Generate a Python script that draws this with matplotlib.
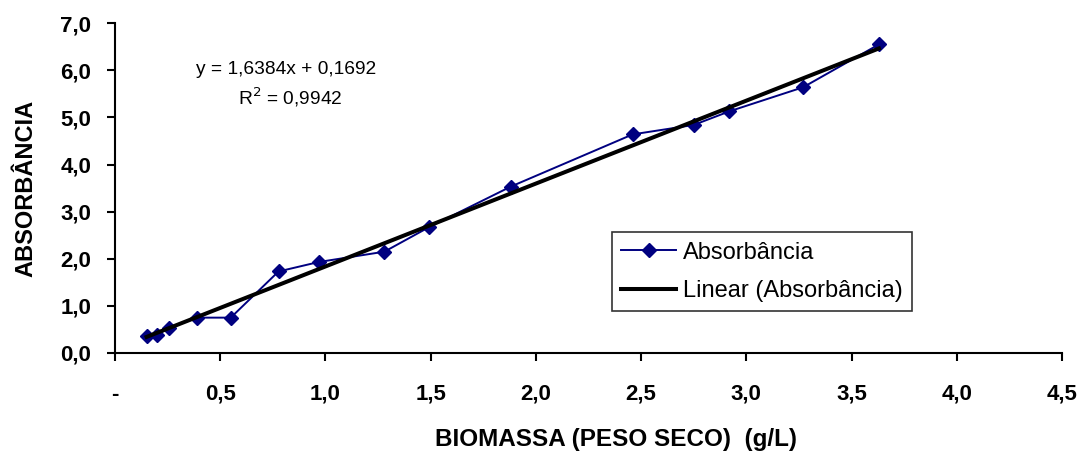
import numpy as np
import matplotlib
matplotlib.use("Agg")
import matplotlib.pyplot as plt

plt.rcParams['font.family'] = ['Liberation Sans', 'DejaVu Sans']

# Data
biomassa = [0.15, 0.198, 0.256, 0.39, 0.55, 0.777, 0.967, 1.28, 1.492,
            1.88, 2.46, 2.75, 2.92, 3.27, 3.63]
absorbancia = [0.35, 0.38, 0.53, 0.75, 0.75, 1.73, 1.93, 2.15, 2.67,
               3.53, 4.64, 4.84, 5.13, 5.64, 6.55]

x_ticks = [0, 0.5, 1.0, 1.5, 2.0, 2.5, 3.0, 3.5, 4.0, 4.5]
x_tick_labels = ['-', '0,5', '1,0', '1,5', '2,0', '2,5', '3,0', '3,5', '4,0', '4,5']
y_ticks = [0, 1, 2, 3, 4, 5, 6, 7]
y_tick_labels = ['0,0', '1,0', '2,0', '3,0', '4,0', '5,0', '6,0', '7,0']

fig = plt.figure(figsize=(10.81, 4.53), dpi=100)
ax = fig.add_axes([0.1064, 0.2208, 0.876, 0.728])

ax.plot(biomassa, absorbancia, color='#000080', lw=1.4, marker='D',
        markersize=7, label='Absorbância', zorder=3)

# linear trendline
coef = np.polyfit(biomassa, absorbancia, 1)
xs = np.array([min(biomassa), max(biomassa)])
ax.plot(xs, np.polyval(coef, xs), color='black', lw=2.9,
        label='Linear (Absorbância)', zorder=4)

ax.set_xlim(0, 4.5)
ax.set_ylim(0, 7)
ax.set_xticks(x_ticks)
ax.set_xticklabels(x_tick_labels, fontsize=16, fontweight='bold')
ax.set_yticks(y_ticks)
ax.set_yticklabels(y_tick_labels, fontsize=16, fontweight='bold')
ax.tick_params(axis='x', length=6, width=1.5, pad=16)
ax.tick_params(axis='y', length=6, width=1.5, pad=11)

for s in ['top', 'right']:
    ax.spines[s].set_visible(False)
for s in ['left', 'bottom']:
    ax.spines[s].set_linewidth(1.5)

ax.set_xlabel('BIOMASSA (PESO SECO)  (g/L)', fontsize=17.5, fontweight='bold', va='center')
ax.xaxis.set_label_coords((616 - 115) / 947, (353 - 440) / 330)
ax.set_ylabel('ABSORBÂNCIA', fontsize=17, fontweight='bold', va='center')
ax.yaxis.set_label_coords((26 - 115) / 947, (353 - 188) / 330)

fig.text(286 / 1081, 1 - 69 / 453, 'y = 1,6384x + 0,1692', fontsize=13.8,
         ha='center', va='center')
fig.text(290 / 1081, 1 - 97 / 453, 'R$^2$ = 0,9942', fontsize=13.8,
         ha='center', va='center')

leg = ax.legend(loc='upper left', bbox_to_anchor=((612 - 115) / 947, 1 - (232 - 23) / 330),
                borderaxespad=0, fontsize=17, frameon=True, fancybox=False,
                edgecolor='black', borderpad=0.4, handlelength=2.3,
                handletextpad=0.3, labelspacing=0.7)
leg.get_frame().set_linewidth(1.2)

fig.savefig('out.png', dpi=100)
